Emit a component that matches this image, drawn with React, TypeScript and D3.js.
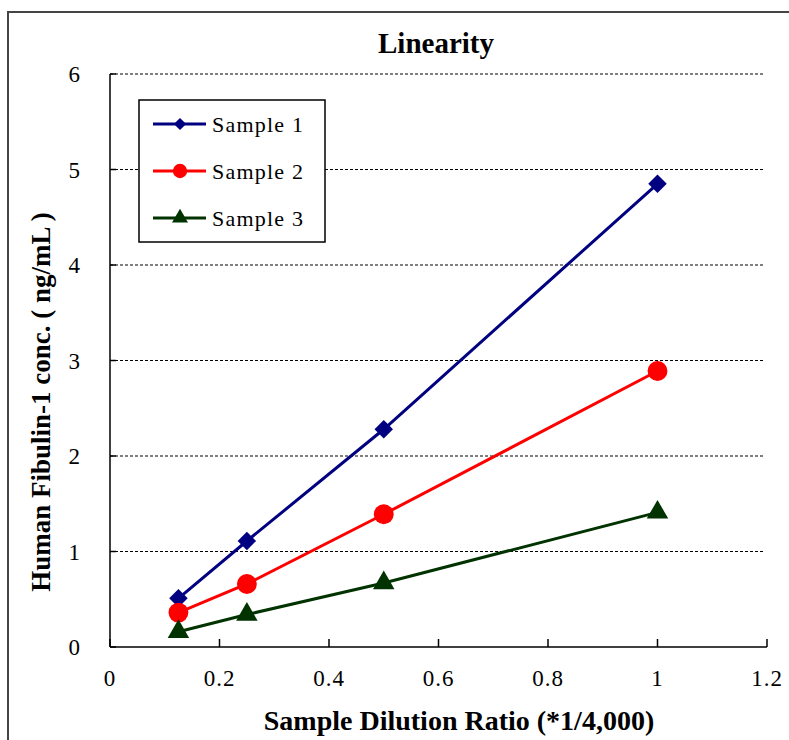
import React from 'react';
import * as d3 from 'd3';

const dilution = [0.125, 0.25, 0.5, 1];
const sample1 = [0.51, 1.11, 2.28, 4.85];
const sample2 = [0.36, 0.66, 1.39, 2.89];
const sample3 = [0.16, 0.34, 0.67, 1.41];
const seriesNames = ['Sample 1', 'Sample 2', 'Sample 3'];
const xTicks = [0, 0.2, 0.4, 0.6, 0.8, 1, 1.2];
const yTicks = [0, 1, 2, 3, 4, 5, 6];

const W = 789;
const H = 740;
const left = 110, right = 767, top = 74, bottom = 647;
const serif = '"Liberation Serif", "Times New Roman", serif';

const colors = ['#000080', '#FF0000', '#003300'];

const App: React.FC = () => {
  const x = d3.scaleLinear().domain([0, 1.2]).range([left, right]);
  const y = d3.scaleLinear().domain([0, 6]).range([bottom, top]);

  const series = [sample1, sample2, sample3];

  const line = d3.line<number>()
    .x((d, i) => x(dilution[i]))
    .y(d => y(d));

  // marker shapes: rotated square, circle, triangle
  const bigSym = [
    d3.symbol().type(d3.symbolSquare).size(170)(),
    d3.symbol().type(d3.symbolCircle).size(310)(),
    d3.symbol().type(d3.symbolTriangle).size(200)(),
  ];
  const smallSym = [
    d3.symbol().type(d3.symbolSquare).size(75)(),
    d3.symbol().type(d3.symbolCircle).size(160)(),
    d3.symbol().type(d3.symbolTriangle).size(110)(),
  ];
  const rot = [45, 0, 0];

  const legendX = 139, legendY = 100, legendW = 186, legendH = 142;
  const rowY = [124, 171, 218];

  return (
    <svg width={W} height={H} style={{ position: 'absolute', left: 0, top: 0, background: '#fff' }}>
      {/* outer frame */}
      <rect x={8} y={12} width={W + 20} height={H + 20} fill="#fff" stroke="#444" strokeWidth={2} />

      <text x={436} y={53} textAnchor="middle" fontFamily={serif} fontWeight="bold" fontSize={29}>
        Linearity
      </text>

      {/* gridlines */}
      {yTicks.filter(t => t > 0).map(t => (
        <line key={'g' + t} x1={left} x2={right - 2} y1={y(t)} y2={y(t)}
          stroke="#000" strokeWidth={1.2} strokeDasharray="3,2" />
      ))}

      {/* y axis */}
      <line x1={left} x2={left} y1={top} y2={bottom} stroke="#000" strokeWidth={1.5} />
      {yTicks.map(t => (
        <g key={'y' + t}>
          <line x1={left} x2={left + 6} y1={y(t)} y2={y(t)} stroke="#000" strokeWidth={1.5} />
          <text x={80} y={y(t)} dy="0.36em" textAnchor="end" fontFamily={serif} fontSize={23}>{t}</text>
        </g>
      ))}

      {/* x axis */}
      <line x1={left} x2={right} y1={bottom} y2={bottom} stroke="#000" strokeWidth={1.5} />
      {xTicks.map(t => (
        <g key={'x' + t}>
          <line x1={x(t)} x2={x(t)} y1={bottom} y2={bottom - 8} stroke="#000" strokeWidth={1.5} />
          <text x={x(t)} y={686} textAnchor="middle" fontFamily={serif} fontSize={23} letterSpacing={1}>{t}</text>
        </g>
      ))}

      <text x={459} y={730} textAnchor="middle" fontFamily={serif} fontWeight="bold" fontSize={28}>
        Sample Dilution Ratio (*1/4,000)
      </text>
      <text transform="translate(50,402) rotate(-90)" textAnchor="middle" fontFamily={serif}
        fontWeight="bold" fontSize={27}>
        Human Fibulin-1 conc. ( ng/mL )
      </text>

      {/* series */}
      {series.map((s, k) => (
        <g key={'s' + k}>
          <path d={line(s) || ''} fill="none" stroke={colors[k]} strokeWidth={3} />
          {s.map((v, i) => (
            <path key={i} d={bigSym[k] || ''} fill={colors[k]}
              transform={`translate(${x(dilution[i])},${y(v)}) rotate(${rot[k]})`} />
          ))}
        </g>
      ))}

      {/* legend */}
      <rect x={legendX} y={legendY} width={legendW} height={legendH} fill="#fff" stroke="#000" strokeWidth={1.5} />
      {seriesNames.map((n, k) => (
        <g key={'l' + k}>
          <line x1={153} x2={206} y1={rowY[k]} y2={rowY[k]} stroke={colors[k]} strokeWidth={3} />
          <path d={smallSym[k] || ''} fill={colors[k]}
            transform={`translate(180,${rowY[k]}) rotate(${rot[k]})`} />
          <text x={212} y={rowY[k]} dy="0.35em" fontFamily={serif} fontSize={22} letterSpacing={1.2}>{n}</text>
        </g>
      ))}
    </svg>
  );
};

export default App;
